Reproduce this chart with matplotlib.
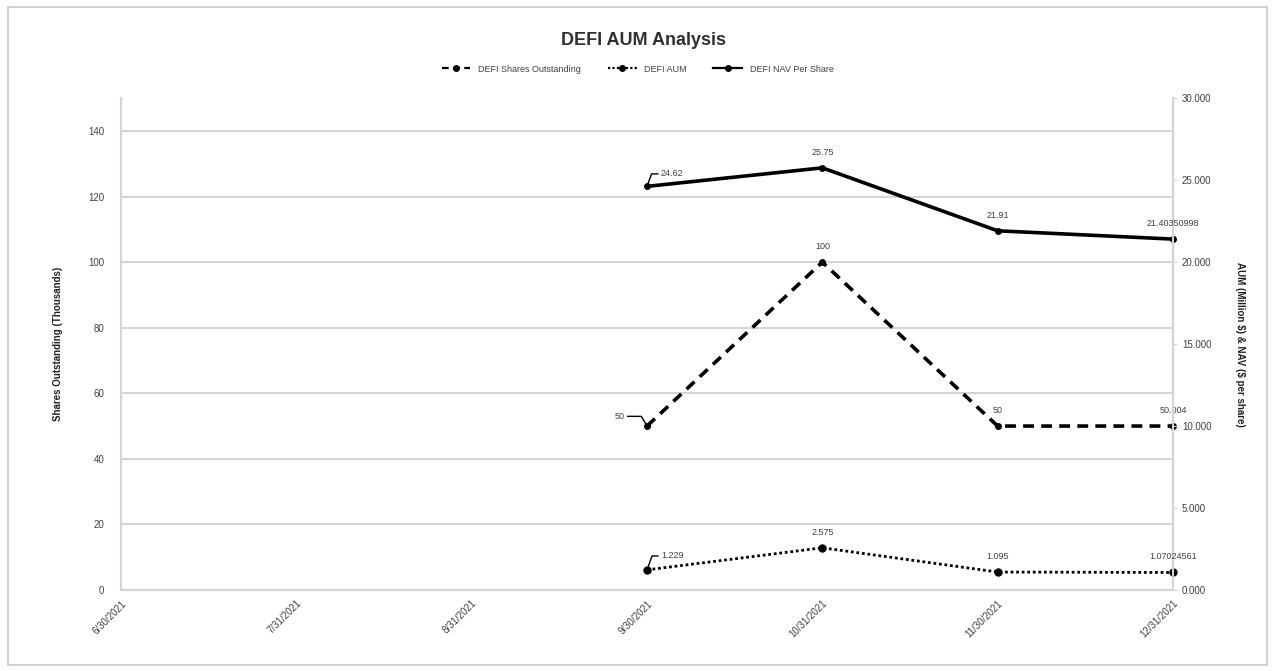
import matplotlib
matplotlib.use("Agg")
import matplotlib.pyplot as plt
from matplotlib.patches import Rectangle

plt.rcParams["font.family"] = ["Liberation Sans", "DejaVu Sans"]

# month-end dates on the category axis
dates = ["6/30/2021", "7/31/2021", "8/31/2021", "9/30/2021",
         "10/31/2021", "11/30/2021", "12/31/2021"]
# only the last four months have data
data_idx = [3, 4, 5, 6]
shares_out = [50, 100, 50, 50.004]            # thousands
aum = [1.229, 2.575, 1.095, 1.07024561]       # million $
nav = [24.62, 25.75, 21.91, 21.40350998]      # $ per share

shares_lbl = ["50", "100", "50", "50.004"]
aum_lbl = ["1.229", "2.575", "1.095", "1.07024561"]
nav_lbl = ["24.62", "25.75", "21.91", "21.40350998"]

grid_c = "#d4d4d4"
txt_c = "#404040"

fig = plt.figure(figsize=(12.75, 6.71), dpi=100)
ax = fig.add_axes([0.0949, 0.1207, 0.8251, 0.733])
ax2 = ax.twinx()

ax.set_xlim(0, 6)
ax.set_ylim(0, 150)
ax.set_yticks(range(0, 141, 20))
ax2.set_ylim(0, 30)
ax2.set_yticks(range(0, 31, 5))
ax2.set_yticklabels([f"{v:.3f}" for v in range(0, 31, 5)])

ax.set_xticks(range(len(dates)))
ax.set_xticklabels(dates, rotation=45, ha="right", rotation_mode="anchor",
                   fontsize=7, color=txt_c)
ax.tick_params(axis="x", length=0, pad=6)
ax.tick_params(axis="y", length=0, labelsize=7, labelcolor=txt_c, pad=12)
ax2.tick_params(axis="y", length=3, color=grid_c, labelsize=7, labelcolor=txt_c)

ax.grid(axis="y", color=grid_c, linewidth=1.5)
ax.set_axisbelow(True)
for a in (ax, ax2):
    a.spines["top"].set_visible(False)
    for s in ("left", "right", "bottom"):
        a.spines[s].set_color(grid_c)
        a.spines[s].set_linewidth(1.5)

ax.set_ylabel("Shares Outstanding (Thousands)", fontsize=7, fontweight="bold",
              color="#202020", labelpad=18)
ax2.set_ylabel(r"AUM (Million \$) & NAV (\$ per share)", fontsize=7,
               fontweight="bold", color="#202020", rotation=270, labelpad=24)

l1, = ax.plot(data_idx, shares_out, color="black", linestyle=(0, (3, 2)),
              linewidth=2.6, marker="o", markersize=4, clip_on=False,
              label="DEFI Shares Outstanding")
l2, = ax2.plot(data_idx, aum, color="black", linestyle=(0, (1, 1)),
               linewidth=2.0, marker="o", markersize=5, clip_on=False,
               label="DEFI AUM")
l3, = ax2.plot(data_idx, nav, color="black", linestyle="-", linewidth=2.6,
               marker="o", markersize=4, clip_on=False,
               label="DEFI NAV Per Share")

lbl_kw = dict(fontsize=6.5, color=txt_c, textcoords="offset points")
lead = dict(arrowstyle="-", color="black", linewidth=1.0,
            shrinkA=0, shrinkB=2)

# first points carry leader lines, the rest sit above their marker
ax2.annotate(nav_lbl[0], (data_idx[0], nav[0]), xytext=(10, 9), ha="left",
             va="center", arrowprops=dict(lead, connectionstyle="angle,angleA=0,angleB=70"),
             **lbl_kw)
ax2.annotate(aum_lbl[0], (data_idx[0], aum[0]), xytext=(10, 10), ha="left",
             va="center", arrowprops=dict(lead, connectionstyle="angle,angleA=0,angleB=70"),
             **lbl_kw)
ax.annotate(shares_lbl[0], (data_idx[0], shares_out[0]), xytext=(-16, 7),
            ha="right", va="center",
            arrowprops=dict(lead, connectionstyle="angle,angleA=180,angleB=120"),
            **lbl_kw)
for i in range(1, 4):
    ax2.annotate(nav_lbl[i], (data_idx[i], nav[i]), xytext=(0, 8),
                 ha="center", va="bottom", **lbl_kw)
    ax2.annotate(aum_lbl[i], (data_idx[i], aum[i]), xytext=(0, 8),
                 ha="center", va="bottom", **lbl_kw)
    ax.annotate(shares_lbl[i], (data_idx[i], shares_out[i]), xytext=(0, 8),
                ha="center", va="bottom", **lbl_kw)

leg = fig.legend(handles=[l1, l2, l3], loc="center", bbox_to_anchor=(0.5, 0.897),
                 ncol=3, frameon=False, fontsize=6.5, handlelength=3.2,
                 columnspacing=3.0, labelcolor=txt_c)
for h in leg.legend_handles:
    h.set_linewidth(1.6)
    h.set_markersize(4)

fig.suptitle("DEFI AUM Analysis", x=0.505, y=0.952, fontsize=13,
             fontweight="bold", color="#303030")

fig.patches.append(Rectangle((0.006, 0.009), 0.988, 0.98, transform=fig.transFigure,
                             fill=False, edgecolor="#c8c8c8", linewidth=1.2))

fig.savefig("out.png", dpi=100)
